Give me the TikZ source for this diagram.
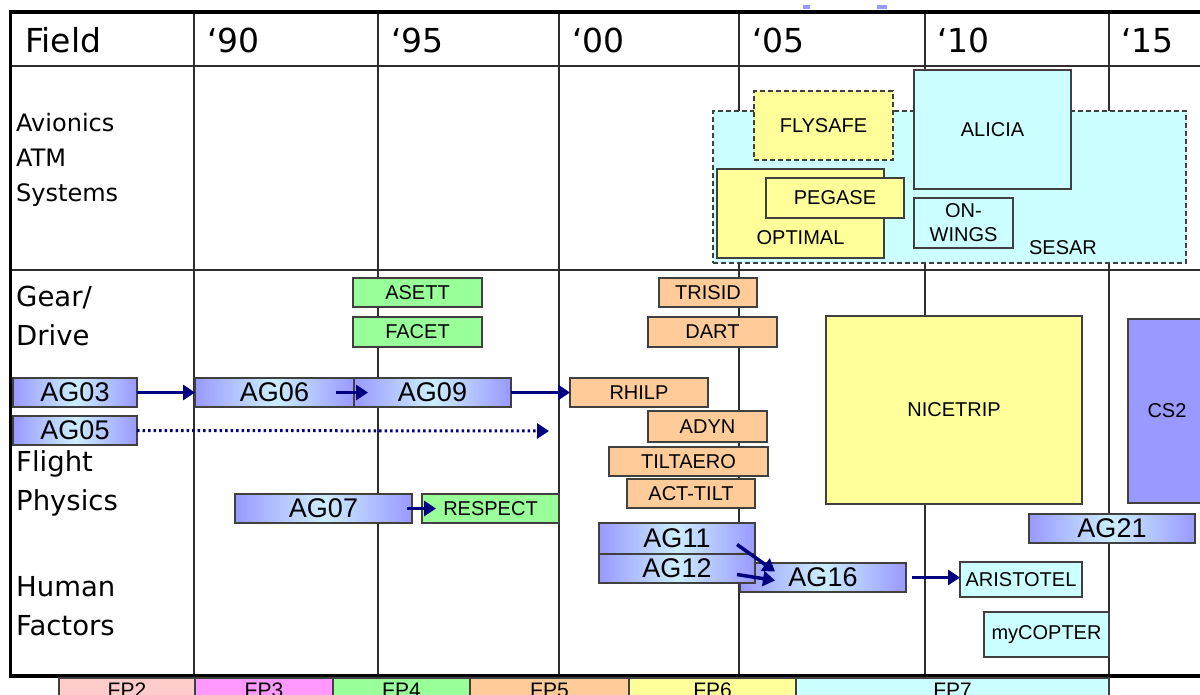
\documentclass[tikz,border=0pt]{standalone}
\usepackage{fontspec}
\setmainfont{Liberation Sans}
\newfontfamily\dv{DejaVu Sans}
\usetikzlibrary{arrows.meta}
\definecolor{navy}{HTML}{000080}
\definecolor{gridc}{HTML}{2E2E2E}
\definecolor{bord}{HTML}{404040}
\definecolor{agL}{HTML}{9999FF}
\definecolor{agM}{HTML}{CCEEFF}
\definecolor{orng}{HTML}{FFCC99}
\definecolor{grn}{HTML}{99FF99}
\definecolor{ylw}{HTML}{FFFF99}
\definecolor{cyn}{HTML}{CCFFFF}
\definecolor{pnk}{HTML}{FFCCCC}
\definecolor{mgn}{HTML}{FF99FF}
\begin{document}
\begin{tikzpicture}[x=1pt,y=-1pt,
  gridline/.style={draw=gridc,line width=1.5pt},
  border/.style={draw=black,line width=3.5pt},
  hdr/.style={anchor=base west,inner sep=0pt,font=\dv\fontsize{33}{36}\selectfont},
  rowa/.style={anchor=base west,inner sep=0pt,font=\dv\fontsize{24}{28}\selectfont},
  rowb/.style={anchor=base west,inner sep=0pt,font=\dv\fontsize{27.5}{30}\selectfont},
  area/.style args={#1/#2/#3/#4}{minimum width={(#3-#1)*1pt},minimum height={(#4-#2)*1pt},at={({(#1+#3)/2},{(#2+#4)/2})}},
  box/.style={draw=bord,line width=1.1pt,inner sep=0pt,outer sep=0pt,font=\fontsize{20}{24}\selectfont},
  lbl/.style={inner sep=0pt,font=\fontsize{20}{24}\selectfont},
  dsh/.style={dash pattern=on 5pt off 3pt},
  ag/.style={box,left color=agL,right color=agL,middle color=agM,font=\fontsize{27}{30}\selectfont},
  obox/.style={box,fill=orng},
  gbox/.style={box,fill=grn},
  ybox/.style={box,fill=ylw},
  cbox/.style={box,fill=cyn},
  fpbox/.style={box,font=\fontsize{21}{24}\selectfont},
  arr/.style={draw=navy,line width=3.5pt,-{Triangle[length=12pt,width=15pt]}},
  dotarr/.style={arr,line width=3pt,dash pattern=on 2.5pt off 3pt}
]
\useasboundingbox (0,0) rectangle (1200,694);
\fill[white] (0,0) rectangle (1200,694);
% marks at top
\fill[agL] (803,5) rectangle (810,9);
\fill[agL] (877,5) rectangle (887,9);
% grid
\foreach \x in {194,378,559,739,925,1109} \draw[gridline] (\x,12) -- (\x,676);
\draw[gridline] (10,66) -- (1200,66);
\draw[gridline] (10,270) -- (1200,270);
\draw[border] (1200,12) -- (10.5,12) -- (10.5,676) -- (1200,676);
% header
\node[hdr] (hf) at (25,52) {Field};
\node[hdr] (h90) at (207,52) {‘90};
\node[hdr] (h95) at (391,52) {‘95};
\node[hdr] (h00) at (572,52) {‘00};
\node[hdr] (h05) at (752,52) {‘05};
\node[hdr] (h10) at (937,52) {‘10};
\node[hdr] (h15) at (1121,52) {‘15};
% row labels
\node[rowa] (r1) at (16,131) {Avionics};
\node[rowa] (r2) at (16,166) {ATM};
\node[rowa] (r3) at (16,201) {Systems};
\node[rowb] (r4) at (16,306) {Gear/};
\node[rowb] (r5) at (16,345) {Drive};
\node[rowb] (r6) at (16,471) {Flight};
\node[rowb] (r7) at (16,510) {Physics};
\node[rowb] (r8) at (16,596) {Human};
\node[rowb] (r9) at (16,635) {Factors};
% avionics
\node[cbox,dsh,area=713/111/1186/263] (sesar) {};
\node[lbl] (sesart) at ([shift={(-123,-15)}]sesar.south east) {SESAR};
\node[ybox,dsh,area=754/91/893/160] (flysafe) {FLYSAFE};
\node[cbox,area=914/70/1071/189] (alicia) {ALICIA};
\node[ybox,area=717/169/884/258] (optimal) {};
\node[lbl] (optimalt) at ([shift={(0,-20)}]optimal.south) {OPTIMAL};
\node[ybox,area=766/178/904/218] (pegase) {PEGASE};
\node[cbox,align=center,area=914/198/1013/248] (onwings) {ON-\\WINGS};
% gear / drive
\node[gbox,area=353/278/482/307] (asett) {ASETT};
\node[gbox,area=353/317/482/347] (facet) {FACET};
\node[obox,area=659/278/757/307] (trisid) {TRISID};
\node[obox,area=648/317/777/347] (dart) {DART};
\node[ybox,area=826/316/1082/504] (nicetrip) {NICETRIP};
\node[box,fill=agL,area=1128/319/1206/503] (cs2) {CS2};
% flight physics
\node[ag,area=13/378/137/407] (ag03) {AG03};
\node[ag,area=195/378/354/407] (ag06) {AG06};
\node[ag,area=354/378/511/407] (ag09) {AG09};
\node[obox,area=570/378/708/407] (rhilp) {RHILP};
\node[ag,area=13/416/137/445] (ag05) {AG05};
\coordinate (ag05end) at (549,431);
\node[obox,area=648/411/767/442] (adyn) {ADYN};
\node[obox,area=609/447/768/476] (tiltaero) {TILTAERO};
\node[obox,area=627/479/755/508] (acttilt) {ACT-TILT};
\node[ag,area=235/494/412/523] (ag07) {AG07};
\node[gbox,area=422/494/559/523] (respect) {RESPECT};
\node[ag,area=1029/514/1195/543] (ag21) {AG21};
% human factors
\node[ag,area=740/563/906/592] (ag16) {AG16};
\node[ag,area=599/523/755/554] (ag11) {AG11};
\node[ag,area=599/554/755/583] (ag12) {AG12};
\node[cbox,area=960/562/1082/597] (aristotel) {ARISTOTEL};
\node[cbox,area=984/612/1109/657] (mycopter) {myCOPTER};
% arrows
\draw[arr] (ag03.east) -- (ag06.west);
\draw[arr] ([shift={(-18,0)}]ag06.east) -- ([shift={(14,0)}]ag09.west);
\draw[arr] (ag09.east) -- (rhilp.west);
\draw[dotarr] (ag05.east) -- (ag05end);
\draw[arr] ([shift={(-5,0)}]ag07.east) -- ([shift={(14,0)}]respect.west);
\draw[arr] ([shift={(-18,6)}]ag11.east) -- ([shift={(35,-6)}]ag16.west);
\draw[arr] ([shift={(-18,6)}]ag12.east) -- ([shift={(35,3)}]ag16.west);
\draw[arr] ([shift={(6,0)}]ag16.east) -- (ag16.east -| aristotel.west);
% FP bar
\node[fpbox,fill=pnk,area=59/678/195/702] (fp2) {FP2};
\node[fpbox,fill=mgn,area=195/678/333/702] (fp3) {FP3};
\node[fpbox,fill=grn,area=333/678/470/702] (fp4) {FP4};
\node[fpbox,fill=orng,area=470/678/629/702] (fp5) {FP5};
\node[fpbox,fill=ylw,area=629/678/796/702] (fp6) {FP6};
\node[fpbox,fill=cyn,area=796/678/1109/702] (fp7) {FP7};
\end{tikzpicture}
\end{document}
